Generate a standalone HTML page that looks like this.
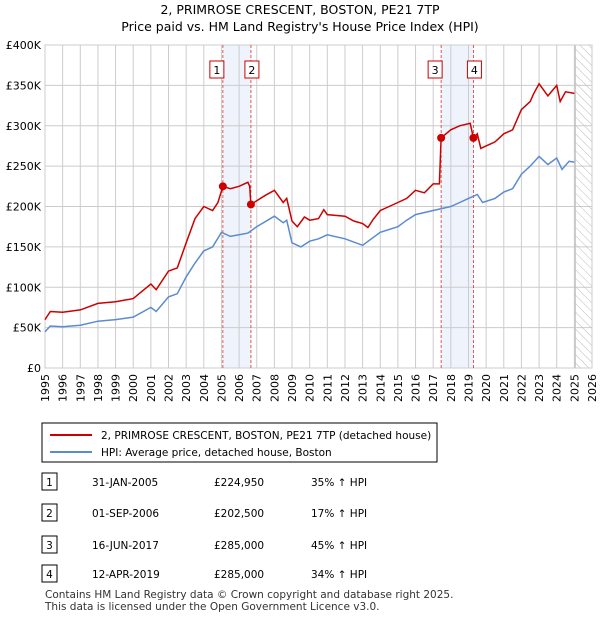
<!DOCTYPE html>
<html><head><meta charset="utf-8"><style>
body{margin:0;background:#fff;font-family:"Liberation Sans","DejaVu Sans",sans-serif;}
svg text{font-family:"DejaVu Sans","Liberation Sans",sans-serif;}
</style></head><body>
<svg id="c" width="600" height="620" xmlns="http://www.w3.org/2000/svg">
<text x="300" y="14" text-anchor="middle" font-size="12.5">2, PRIMROSE CRESCENT, BOSTON, PE21 7TP</text>
<text x="300" y="31" text-anchor="middle" font-size="12.5">Price paid vs. HM Land Registry's House Price Index (HPI)</text>
<g id="plot"></g>
<rect x="42" y="423" width="395" height="39" fill="#fff" stroke="#000"/>
<line x1="50" y1="435" x2="92" y2="435" stroke="#cc0000" stroke-width="2"/>
<text x="101" y="439" font-size="10.5">2, PRIMROSE CRESCENT, BOSTON, PE21 7TP (detached house)</text>
<line x1="50" y1="452" x2="92" y2="452" stroke="#5b8bd0" stroke-width="2"/>
<text x="101" y="456" font-size="10.5">HPI: Average price, detached house, Boston</text>
<g id="tbl" font-size="10.5"></g>
<text x="45" y="598" font-size="10.5" fill="#333">Contains HM Land Registry data © Crown copyright and database right 2025.</text>
<text x="45" y="610" font-size="10.5" fill="#333">This data is licensed under the Open Government Licence v3.0.</text>
</svg>
<script>
const yTicks=[0,50000,100000,150000,200000,250000,300000,350000,400000];
const yTickLabels=["£0","£50K","£100K","£150K","£200K","£250K","£300K","£350K","£400K"];
const years=[1995,1996,1997,1998,1999,2000,2001,2002,2003,2004,2005,2006,2007,2008,2009,2010,2011,2012,2013,2014,2015,2016,2017,2018,2019,2020,2021,2022,2023,2024,2025,2026];
const redT=[1995,1995.3,1996,1997,1998,1999,2000,2000.5,2001,2001.3,2002,2002.5,2003,2003.5,2004,2004.5,2004.8,2005.08,2005.5,2006,2006.5,2006.6,2006.67,2007,2007.5,2008,2008.5,2008.7,2009,2009.3,2009.7,2010,2010.5,2010.8,2011,2012,2012.5,2013,2013.3,2013.6,2014,2014.5,2015,2015.5,2016,2016.5,2017,2017.35,2017.45,2018,2018.5,2019.1,2019.28,2019.5,2019.7,2020,2020.5,2021,2021.5,2022,2022.5,2022.7,2023,2023.5,2024,2024.2,2024.5,2025];
const redV=[60,70,69,72,80,82,86,95,104,97,120,124,155,185,200,195,205,224.95,222,225,230,225,202.5,207,214,220,205,210,182,175,187,183,185,196,190,188,182,179,174,184,195,200,205,210,220,217,228,228,285,295,300,303,285,290,272,275,280,290,295,320,330,340,352,337,350,330,342,340];
const blueT=[1995,1995.3,1996,1997,1998,1999,2000,2001,2001.3,2002,2002.5,2003,2003.5,2004,2004.5,2005,2005.5,2006,2006.5,2007,2008,2008.5,2008.7,2009,2009.5,2010,2010.5,2011,2012,2013,2013.5,2014,2015,2015.5,2016,2017,2018,2018.5,2019,2019.5,2019.8,2020.5,2021,2021.5,2022,2022.5,2023,2023.5,2024,2024.3,2024.7,2025];
const blueV=[45,52,51,53,58,60,63,75,70,88,92,113,130,145,150,168,163,165,167,175,188,180,183,155,150,157,160,165,160,152,160,168,175,183,190,195,200,205,210,215,205,210,218,222,240,250,262,252,260,246,256,255];
const saleT=[2005.08,2006.67,2017.45,2019.28];
const saleV=[224950,202500,285000,285000];
const saleLabels=["1","2","3","4"];
const saleDates=["31-JAN-2005","01-SEP-2006","16-JUN-2017","12-APR-2019"];
const salePrices=["£224,950","£202,500","£285,000","£285,000"];
const saleHpi=["35% ↑ HPI","17% ↑ HPI","45% ↑ HPI","34% ↑ HPI"];
const L=45,R=592,T=45,B=368,NS="http://www.w3.org/2000/svg";
const X=t=>L+(t-1995)/31*(R-L), Y=v=>B-v/400000*(B-T);
const g=document.getElementById('plot');
function el(tag,a,p){const e=document.createElementNS(NS,tag);for(const k in a)e.setAttribute(k,a[k]);(p||g).appendChild(e);return e;}
el('rect',{x:L,y:T,width:R-L,height:B-T,fill:'#fff'});
for(let i=0;i<saleT.length;i+=2){
 const r=el('rect',{x:X(saleT[i]),y:T,width:X(saleT[i+1])-X(saleT[i]),height:B-T,fill:'#eef3fc'});
 
 
}
years.forEach(y=>{const l=el('line',{x1:X(y),x2:X(y),y1:T,y2:B,stroke:'#ccc'});
 
 const t=el('text',{x:0,y:0,'font-size':11,'text-anchor':'end',transform:`translate(${X(y)+4},${B+6}) rotate(-90)`});t.textContent=y;
 });
yTicks.forEach((v,i)=>{const l=el('line',{x1:L,x2:R,y1:Y(v),y2:Y(v),stroke:'#ccc'});
 
 const t=el('text',{x:L-4,y:Y(v)+4,'font-size':11,'text-anchor':'end'});t.textContent=yTickLabels[i];
 });
// hatch future
const defs=el('defs',{});const pat=el('pattern',{id:'h',width:6,height:6,patternUnits:'userSpaceOnUse',patternTransform:'rotate(-45)'},defs);
el('line',{x1:0,y1:0,x2:0,y2:6,stroke:'#bbb','stroke-width':1},pat);
const hx=X(2025.05);
const hr=el('rect',{x:hx,y:T,width:R-hx,height:B-T,fill:'url(#h)',stroke:'#bbb'});

el('rect',{x:L,y:T,width:R-L,height:B-T,fill:'none',stroke:'#ccc'});
saleT.forEach((t,i)=>{const l=el('line',{x1:X(t),x2:X(t),y1:T,y2:B,stroke:'#e03030','stroke-dasharray':'3,2','stroke-width':0.8});
 
 const bx=X(t)-(i%2==0?10:-2)-(i%2==0?0:12);
 const r=el('rect',{x:X(t)+(i%2==0?-13:-6),y:61,width:14,height:17,fill:'#fff',stroke:'#cc0000'});
 
 const tx=el('text',{x:X(t)+(i%2==0?-6:1),y:74,'font-size':11,'text-anchor':'middle'});tx.textContent=saleLabels[i];
 });
const pts=(ts,vs)=>ts.map((t,i)=>X(t).toFixed(1)+','+Y(vs[i]*1000).toFixed(1)).join(' ');
const bl=el('polyline',{points:pts(blueT,blueV),fill:'none',stroke:'#5b8bd0','stroke-width':1.5});

const rl=el('polyline',{points:pts(redT,redV),fill:'none',stroke:'#cc0000','stroke-width':1.5});

saleT.forEach((t,i)=>{const c=el('circle',{cx:X(t),cy:Y(saleV[i]),r:4,fill:'#cc0000'});
 });
const tb=document.getElementById('tbl');const rows=[483,514,546,575];
rows.forEach((y,i)=>{const r=el('rect',{x:42,y:y-10,width:15,height:17,fill:'#fff',stroke:'#000'},tb);
 
 const cells=[[49.5,saleLabels[i],'middle'],[92,saleDates[i],'start'],[214,salePrices[i],'start'],[311,saleHpi[i],'start']];
 cells.forEach(c=>{const t=el('text',{x:c[0],y:y+3,'text-anchor':c[2]},tb);t.textContent=c[1];
  });});
</script>
</body></html>
